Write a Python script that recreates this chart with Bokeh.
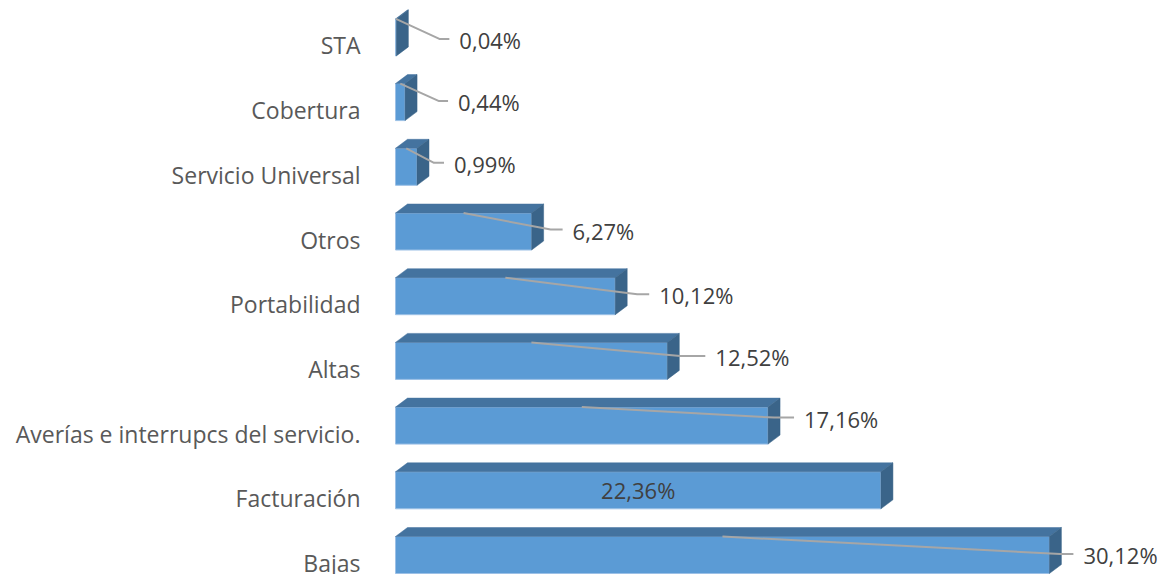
from bokeh.plotting import figure
from bokeh.models import Range1d
from bokeh.embed import file_html
from bokeh.resources import INLINE
from bokeh.core.properties import value

# ---- data (row 0 = bottom) ----
categories = ["Bajas", "Facturación", "Averías e interrupcs del servicio.", "Altas",
              "Portabilidad", "Otros", "Servicio Universal", "Cobertura", "STA"]
values = [30.12, 22.36, 17.16, 12.52, 10.12, 6.27, 0.99, 0.44, 0.04]
labels = ["30,12%", "22,36%", "17,16%", "12,52%", "10,12%", "6,27%", "0,99%", "0,44%", "0,04%"]

# ---- label layout (pixels relative to bar end / centre) ----
label_inside = [False, True, False, False, False, False, False, False, False]
label_dx_px = [34, 0, 36, 48, 44, 41, 37, 53, 63]
label_dy_px = [0, 0, -7, -4, -1, -1, -3, 0, 2.5]
elbow_gap_px = [23, 0, 30, 35, 22, 22, 20, 19, 20]

# ---- geometry ----
W, H = 1162, 574
SX = 21.71      # px per percent
SY = 64.7       # px per row
X0_PX = 395     # bar origin from plot left
Y0_PX = 554.5   # centre of row 0 from plot top
x_start = -X0_PX / SX
x_end = x_start + W / SX
y_end = Y0_PX / SY
y_start = y_end - H / SY

HALF = 18.5 / SY
DX = 12 / SX
DY = 9 / SY

p = figure(width=W, height=H, output_backend="svg", toolbar_location=None,
           x_range=Range1d(x_start, x_end), y_range=Range1d(y_start, y_end),
           x_axis_type=None, y_axis_type=None, min_border=0)
p.outline_line_color = None
p.grid.visible = False
p.background_fill_color = "white"
p.border_fill_color = "white"

FRONT = "#5B9BD5"
TOP = "#44739F"
SIDE = "#3A6489"

rows = list(range(len(values)))
# front faces
p.quad(left=[0] * len(values), right=values,
       bottom=[i - HALF for i in rows], top=[i + HALF for i in rows],
       fill_color=FRONT, line_color="#9CC0E6", line_width=1)
# top faces
top_xs = [[0, v, v + DX, DX] for v in values]
top_ys = [[i + HALF, i + HALF, i + HALF + DY, i + HALF + DY] for i in rows]
p.patches(top_xs, top_ys, fill_color=TOP, line_color=TOP, line_width=0.5)
# side faces
side_xs = [[v, v + DX, v + DX, v] for v in values]
side_ys = [[i - HALF, i - HALF + DY, i + HALF + DY, i + HALF] for i in rows]
p.patches(side_xs, side_ys, fill_color=SIDE, line_color=SIDE, line_width=0.5)

# category labels
p.text(x=[-35 / SX] * len(categories), y=[i - 8 / SY for i in rows], text=categories,
       text_align="right", text_baseline="middle", text_font=value("Open Sans"),
       text_font_size="23px", text_color="#595959")

# value labels + leader lines
lx, ly, lt, la = [], [], [], []
line_xs, line_ys = [], []
for i, v in enumerate(values):
    if label_inside[i]:
        lx.append(v / 2); ly.append(i); lt.append(labels[i]); la.append("center")
        continue
    tx = v + label_dx_px[i] / SX
    ty = i - label_dy_px[i] / SY
    lx.append(tx); ly.append(ty); lt.append(labels[i]); la.append("left")
    ey = ty + 1 / SY
    line_xs.append([v / 2, tx - elbow_gap_px[i] / SX, tx - 10 / SX])
    line_ys.append([i + HALF, ey, ey])

p.multi_line(line_xs, line_ys, line_color="#A6A6A6", line_width=2)
p.text(x=lx, y=ly, text=lt, text_align=la, text_baseline="middle",
       text_font=value("Open Sans"), text_font_size="22px", text_color="#404040")

open("out.html", "w").write(file_html(p, INLINE))
